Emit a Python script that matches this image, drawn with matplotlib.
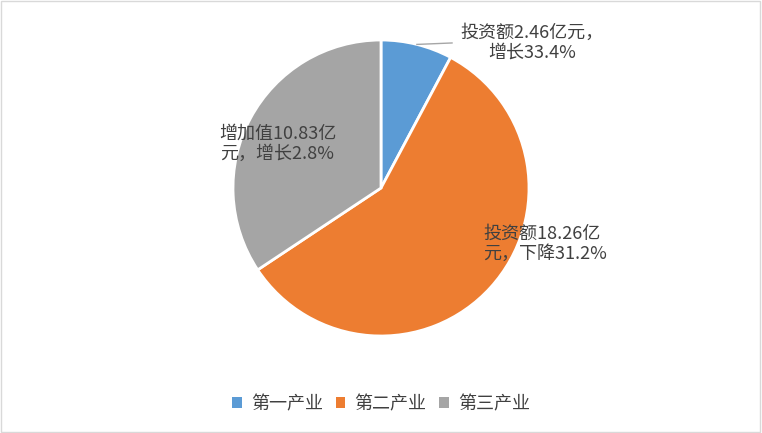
import numpy as np
import matplotlib
matplotlib.use("Agg")
import matplotlib.pyplot as plt
from matplotlib.patches import Patch, Rectangle

plt.rcParams['font.family'] = ['Noto Sans CJK SC', 'DejaVu Sans']

# data
categories = ["第一产业", "第二产业", "第三产业"]
values = [2.46, 18.26, 10.83]
labels = ["投资额2.46亿元，\n增长33.4%",
          "投资额18.26亿\n元，下降31.2%",
          "增加值10.83亿\n元，增长2.8%"]
colors = ["#5B9BD5", "#ED7D31", "#A5A5A5"]
text_color = "#404040"

W, H = 762, 433
fig = plt.figure(figsize=(W / 100, H / 100), dpi=100)

# pie centre / radius in pixels
cx, cy, r = 381, 188, 148
ax = fig.add_axes([(cx - r) / W, (H - cy - r) / H, 2 * r / W, 2 * r / H])
wedges, _ = ax.pie(values, colors=colors, startangle=90, counterclock=False,
                   radius=1, wedgeprops=dict(edgecolor="white", linewidth=2))
ax.set_xlim(-1, 1)
ax.set_ylim(-1, 1)
ax.set_aspect("equal")
ax.axis("off")

fs = 13

# label for first slice, outside with leader line
w0 = wedges[0]
mid = np.deg2rad((w0.theta1 + w0.theta2) / 2)
ax.plot([np.cos(mid), 0.48], [np.sin(mid), 0.98], color="#A6A6A6", lw=1, clip_on=False)
ax.text(1.02, 0.98, labels[0], ha="center", va="center", fontsize=fs,
        color=text_color, linespacing=1.15, clip_on=False)

# labels inside the other slices
ax.text(0.69, -0.38, labels[1], ha="left", va="center", fontsize=fs,
        color=text_color, linespacing=1.15, clip_on=False)
ax.text(-1.09, 0.30, labels[2], ha="left", va="center", fontsize=fs,
        color=text_color, linespacing=1.15, clip_on=False)

# legend
handles = [Patch(facecolor=c, edgecolor="none") for c in colors]
fig.legend(handles, categories, loc="center", bbox_to_anchor=(0.5, 1 - 404 / H),
           ncol=3, frameon=False, fontsize=fs, handlelength=0.55, handleheight=0.55,
           handletextpad=0.5, columnspacing=0.7, labelcolor=text_color)

# outer border
fig.patches.append(Rectangle((0.001, 0.002), 0.997, 0.995, transform=fig.transFigure,
                             fill=False, edgecolor="#D9D9D9", lw=1))

fig.savefig("out.png", dpi=100, facecolor="white")
